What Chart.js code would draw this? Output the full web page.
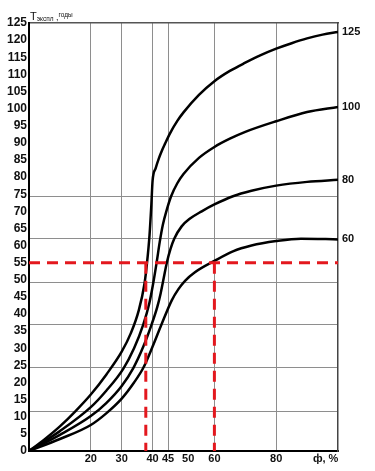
<!DOCTYPE html>
<html><head><meta charset="utf-8">
<script src="https://cdn.jsdelivr.net/npm/chart.js@4.4.1/dist/chart.umd.min.js"></script>
<style>
html,body{margin:0;padding:0;background:#fff;}
#wrap{position:relative;width:375px;height:471px;}
#title{position:absolute;left:30px;top:7px;font-family:"Liberation Sans",Arial,sans-serif;color:#111;white-space:nowrap;line-height:1;}
</style></head><body>
<div id="wrap"><canvas id="c"></canvas>
<div id="title"><span style="font-size:11px">T</span><span style="font-size:6.5px;position:relative;top:1px">экспл</span><span style="font-size:9px"> ,</span><span style="font-size:6.5px;position:relative;top:-3px">годы</span></div>
</div>
<script>
// Curve "125"
const phi125 = [0, 5, 10, 15, 20, 25, 30, 33, 35.5, 37.4, 38.2, 39, 39.6, 40, 41, 42, 43, 44, 45.6, 48, 50, 55, 60, 65, 70, 75, 80, 85, 90, 95, 100];
const t125   = [0, 3.4, 7.2, 11.6, 16.5, 22.3, 29, 34.5, 41, 49, 55, 63, 72, 79, 82.6, 85.4, 87.7, 89.7, 92.7, 96.4, 98.9, 104, 108, 111, 113.4, 115.6, 117.5, 119.1, 120.5, 121.6, 122.4];
// Curve "100"
const phi100 = [0, 10, 20, 25, 30.5, 34, 37, 38.9, 40.2, 41.3, 42.3, 43.3, 44.6, 46, 48, 50, 55, 60, 65, 70, 80, 90, 100];
const t100   = [0, 5.8, 12.8, 17.6, 24, 30, 37, 43, 49, 55, 61, 66, 70.5, 74.4, 78.2, 80.9, 85.6, 88.8, 91.2, 93.2, 96.3, 99, 100.5];
// Curve "80"
const phi80 = [0, 10, 20, 25, 30, 33.8, 37, 39.7, 41.5, 42.6, 43.6, 44.6, 45.8, 47, 49.4, 52, 55.9, 60, 66, 72, 80, 90, 100];
const t80   = [0, 4.7, 10.2, 14, 19, 24.3, 30.5, 37, 42, 46, 50.5, 55, 59, 62, 65.6, 67.8, 70, 72, 74.4, 76, 77.5, 78.6, 79.2];
// Curve "60"
const phi60 = [0, 10, 20, 25, 30, 34, 37, 40, 42.9, 46.2, 48.3, 50.5, 53.7, 60, 66, 72, 80, 88, 100];
const t60   = [0, 3.5, 7.6, 11, 15.3, 20, 24.3, 30.5, 37, 44, 47.2, 49.7, 52.2, 55.5, 58.3, 60, 61.3, 62, 61.8];

const curveLabels = ['125', '100', '80', '60'];

// Reading example (red dashed)
const readT = 55;
const readPhiA = 37.8;
const readPhiB = 60;

// Axes
const yTickValues = [0,5,10,15,20,25,30,35,40,45,50,55,60,65,70,75,80,85,90,95,100,105,110,115,120,125];
const xTickValues = [20, 30, 40, 45, 51.5, 60, 80, 96];
const xTickLabels = ['20', '30', '40', '45', '50', '60', '80', 'ф, %'];
const gridX = [20, 30, 40, 45, 60, 80];
const gridY = [11.4, 24.3, 37, 49.3, 62, 74.2];

const zip = (xs, ys) => xs.map((x, i) => ({x: x, y: ys[i]}));
const curveStyle = {borderColor: '#000', borderWidth: 2.5, pointRadius: 0, fill: false, cubicInterpolationMode: 'monotone', order: 2};
const redStyle = {borderColor: '#e3181e', borderWidth: 3, borderDash: [11, 7], pointRadius: 0, fill: false, tension: 0, order: 0};
const F = 'Liberation Sans';

const endValues = [t125[t125.length-1], t100[t100.length-1], t80[t80.length-1], t60[t60.length-1]];

new Chart(document.getElementById('c'), {
  type: 'line',
  data: {
    datasets: [
      Object.assign({label: 'h', data: [{x: 0, y: readT}, {x: 100, y: readT}]}, redStyle),
      Object.assign({label: 'v1', data: [{x: readPhiA, y: readT}, {x: readPhiA, y: 0}]}, redStyle),
      Object.assign({label: 'v2', data: [{x: readPhiB, y: readT}, {x: readPhiB, y: 0}]}, redStyle),
      Object.assign({label: curveLabels[0], data: zip(phi125, t125)}, curveStyle),
      Object.assign({label: curveLabels[1], data: zip(phi100, t100)}, curveStyle),
      Object.assign({label: curveLabels[2], data: zip(phi80, t80)}, curveStyle),
      Object.assign({label: curveLabels[3], data: zip(phi60, t60)}, curveStyle)
    ]
  },
  options: {
    responsive: true,
    maintainAspectRatio: false,
    animation: false,
    layout: {padding: 0},
    plugins: {legend: {display: false}, tooltip: {enabled: false}},
    scales: {
      x: {
        type: 'linear', position: 'bottom', min: 0, max: 100,
        afterBuildTicks: s => { s.ticks = xTickValues.map(v => ({value: v})); },
        ticks: {callback: (v, i) => xTickLabels[i], autoSkip: false, maxRotation: 0, minRotation: 0, padding: 1,
                font: {family: F, weight: 'bold', size: 11}, color: '#111'},
        grid: {drawTicks: false, lineWidth: 1,
               color: ctx => (ctx.tick && gridX.includes(ctx.tick.value)) ? '#8e8e8e' : 'rgba(0,0,0,0)'},
        border: {color: '#000', width: 2},
        afterFit: s => { s.height = 20; }
      },
      x2: {
        type: 'linear', position: 'top', min: 0, max: 100,
        ticks: {display: false}, grid: {display: false, drawTicks: false},
        border: {color: '#555', width: 1.5},
        afterFit: s => { s.height = 23; }
      },
      y: {
        type: 'linear', position: 'left', min: 0, max: 125,
        afterBuildTicks: s => { s.ticks = yTickValues.map(v => ({value: v})); },
        ticks: {autoSkip: false, padding: 2, font: {family: F, weight: 'bold', size: 12}, color: '#111'},
        grid: {display: false, drawTicks: false},
        border: {color: '#000', width: 2},
        afterFit: s => { s.width = 29; }
      },
      yg: {
        type: 'linear', position: 'left', min: 0, max: 125,
        afterBuildTicks: s => { s.ticks = gridY.map(v => ({value: v})); },
        ticks: {display: false},
        grid: {color: '#8e8e8e', lineWidth: 1, drawTicks: false},
        border: {display: false},
        afterFit: s => { s.width = 0; }
      },
      y2: {
        type: 'linear', position: 'right', min: 0, max: 125,
        afterBuildTicks: s => { s.ticks = endValues.map(v => ({value: v})); },
        ticks: {callback: (v, i) => curveLabels[i], autoSkip: false, padding: 4,
                font: {family: F, weight: 'bold', size: 11}, color: '#111'},
        grid: {display: false, drawTicks: false},
        border: {color: '#444', width: 1.5},
        afterFit: s => { s.width = 37; }
      }
    }
  }
});
</script>
</body></html>
